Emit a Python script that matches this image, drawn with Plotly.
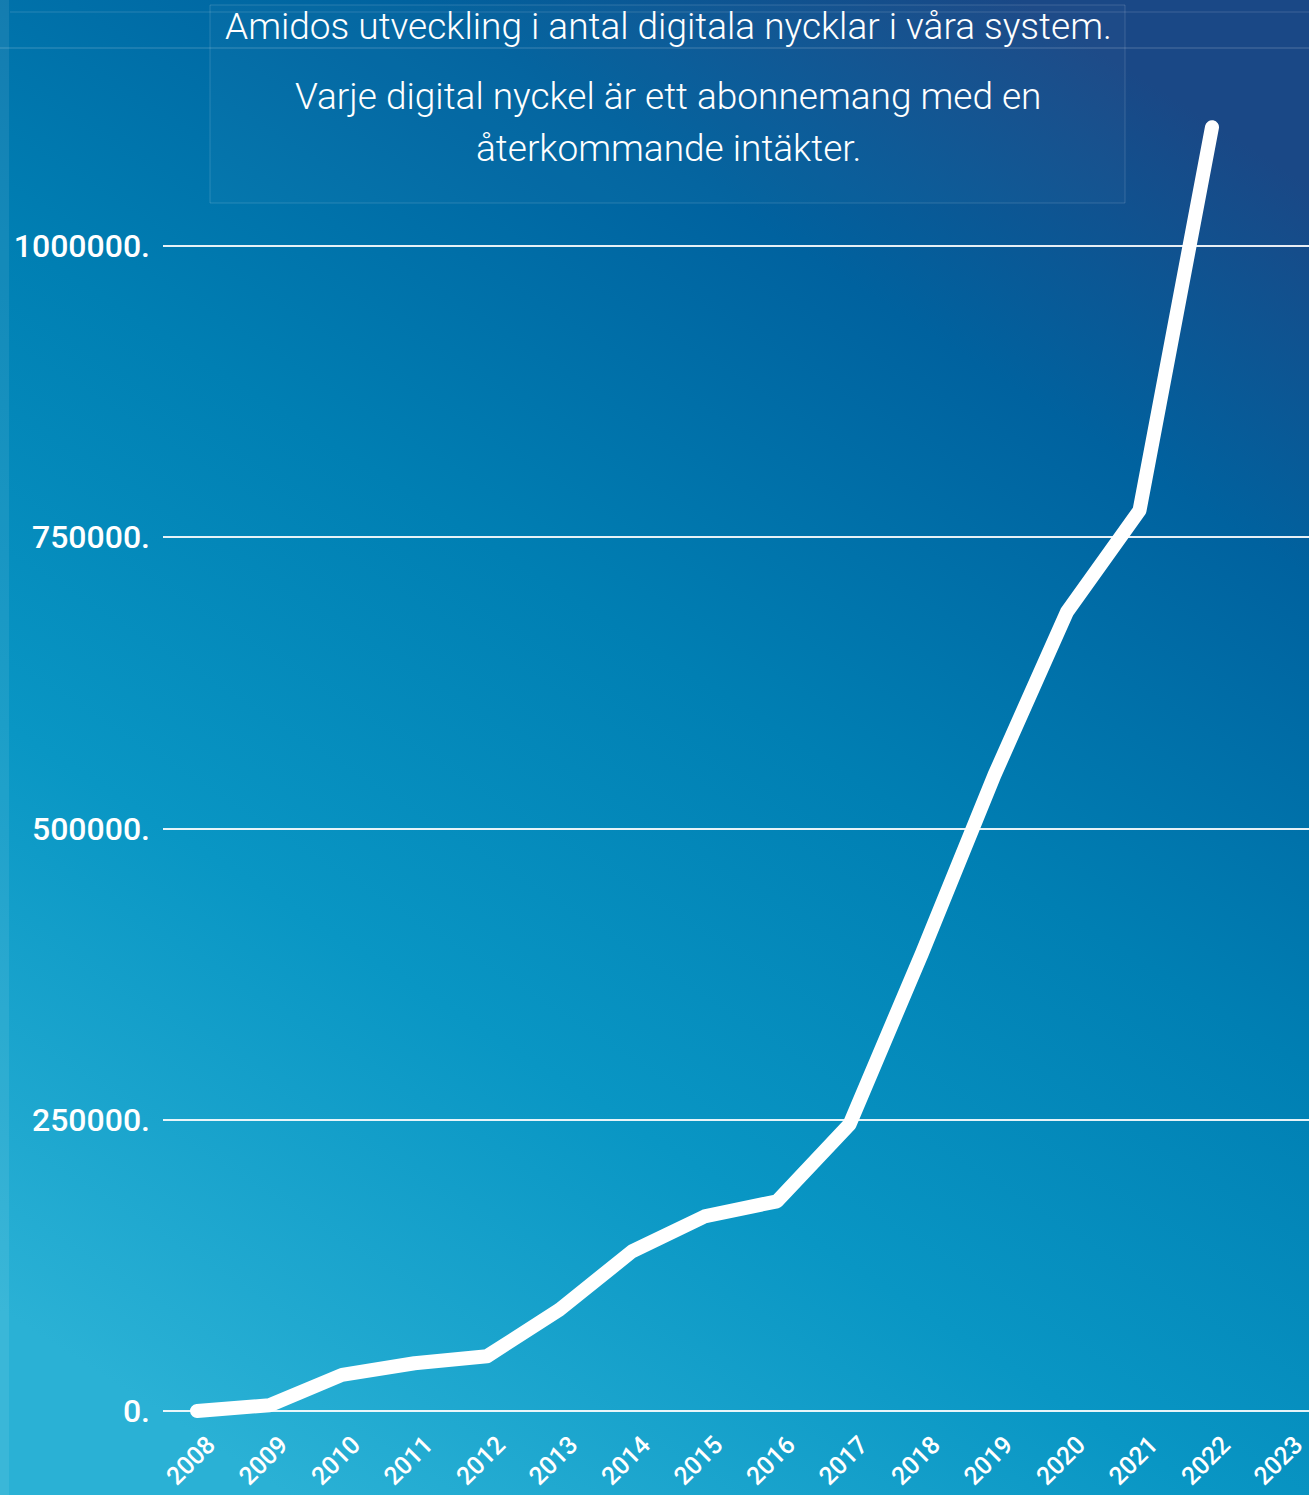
import base64
import plotly.graph_objects as go

years = [2008, 2009, 2010, 2011, 2012, 2013, 2014, 2015, 2016, 2017, 2018, 2019, 2020, 2021, 2022]
keys = [0, 5000, 31000, 41000, 47000, 87000, 137000, 167000, 180000, 246000, 393000, 546000, 686000, 773000, 1102000]
x_ticks = list(range(2008, 2024))
y_ticks = [0, 250000, 500000, 750000, 1000000]
y_ticktext = ["0.", "250000.", "500000.", "750000.", "1000000."]
title_line1 = "Amidos utveckling i antal digitala nycklar i våra system."
title_line2 = "Varje digital nyckel är ett abonnemang med en"
title_line3 = "återkommande intäkter."

W, H = 1309, 1495
L, R, T, B = 163, 0, 48, 65
PW, PH = W - L - R, H - T - B


def px(xp):
    return (xp - L) / PW


def py(yp):
    return (H - B - yp) / PH


svg = f'''<svg xmlns="http://www.w3.org/2000/svg" width="{W}" height="{H}" preserveAspectRatio="none" viewBox="0 0 {W} {H}">
<defs><linearGradient id="g" x1="0.22" y1="1" x2="0.78" y2="0">
<stop offset="0" stop-color="#2ab1d5"/>
<stop offset="0.3" stop-color="#0996c4"/>
<stop offset="0.55" stop-color="#007fb3"/>
<stop offset="0.8" stop-color="#00629f"/>
<stop offset="1" stop-color="#1a4886"/>
</linearGradient></defs>
<rect width="{W}" height="{H}" fill="url(#g)"/>
</svg>'''
src = "data:image/svg+xml;base64," + base64.b64encode(svg.encode("utf-8")).decode("ascii")

fig = go.Figure()
fig.add_trace(go.Scatter(
    x=years, y=keys, mode="lines",
    line=dict(color="white", width=14),
    hoverinfo="x+y", showlegend=False,
))

fig.add_layout_image(dict(
    source=src, xref="paper", yref="paper",
    x=px(0), y=py(0), sizex=W / PW, sizey=H / PH,
    xanchor="left", yanchor="top", sizing="stretch", layer="below",
))

shapes = [
    dict(type="rect", xref="paper", yref="paper", x0=px(0), x1=px(9), y0=py(H), y1=py(0),
         fillcolor="rgba(255,255,255,0.08)", line=dict(width=0), layer="below"),
    dict(type="line", xref="paper", yref="paper", x0=px(10), x1=px(W), y0=py(12), y1=py(12),
         line=dict(color="rgba(255,255,255,0.15)", width=1)),
    dict(type="line", xref="paper", yref="paper", x0=px(0), x1=px(W), y0=py(48), y1=py(48),
         line=dict(color="rgba(255,255,255,0.22)", width=1)),
    dict(type="rect", xref="paper", yref="paper", x0=px(210), x1=px(1125), y0=py(203), y1=py(5),
         fillcolor="rgba(255,255,255,0.02)", line=dict(color="rgba(255,255,255,0.15)", width=1)),
]

tfont = dict(family="Roboto", size=37, color="white", weight=300)
annotations = [
    dict(text=title_line1, xref="paper", yref="paper", x=px(668), y=py(27),
         showarrow=False, xanchor="center", yanchor="middle", font=tfont),
    dict(text=title_line2, xref="paper", yref="paper", x=px(668), y=py(97),
         showarrow=False, xanchor="center", yanchor="middle", font=tfont),
    dict(text=title_line3, xref="paper", yref="paper", x=px(668), y=py(148),
         showarrow=False, xanchor="center", yanchor="middle", font=tfont),
]

y_lo = -(1430 - 1411) / 1165 * 1e6
y_hi = (1411 - 48) / 1165 * 1e6
x_lo = 2008 - (197 - 163) / 72.5
x_hi = 2023 + (1309 - 1284.5) / 72.5

fig.update_layout(
    width=W, height=H, autosize=False,
    margin=dict(l=L, r=R, t=T, b=B, pad=0),
    paper_bgcolor="#0080b4", plot_bgcolor="rgba(0,0,0,0)",
    shapes=shapes, annotations=annotations,
    xaxis=dict(range=[x_lo, x_hi], tickvals=x_ticks, ticktext=[str(v) for v in x_ticks],
               tickangle=-45, showgrid=False, zeroline=False, showline=False, ticks="",
               tickfont=dict(family="Roboto", size=25, color="white", weight=500),
               ticklabelshift=11, ticklabelstandoff=-6, ticklabeloverflow="allow",
               automargin=False, fixedrange=True),
    yaxis=dict(range=[y_lo, y_hi], tickvals=y_ticks, ticktext=y_ticktext,
               showgrid=True, gridcolor="rgba(255,255,255,0.9)", gridwidth=2,
               zeroline=False, showline=False, ticks="", ticklabelstandoff=12,
               tickfont=dict(family="Roboto", size=32, color="white", weight=500),
               automargin=False, fixedrange=True),
)

post = (
    "document.body.style.margin='0';document.body.style.overflow='hidden';"
    "var s=document.createElement('style');"
    "s.textContent='.scatterlayer .js-line{stroke-linecap:round !important;stroke-linejoin:round !important;}';"
    "document.head.appendChild(s);"
)
fig.write_html("out.html", post_script=post,
               config={"displayModeBar": False, "responsive": False})
